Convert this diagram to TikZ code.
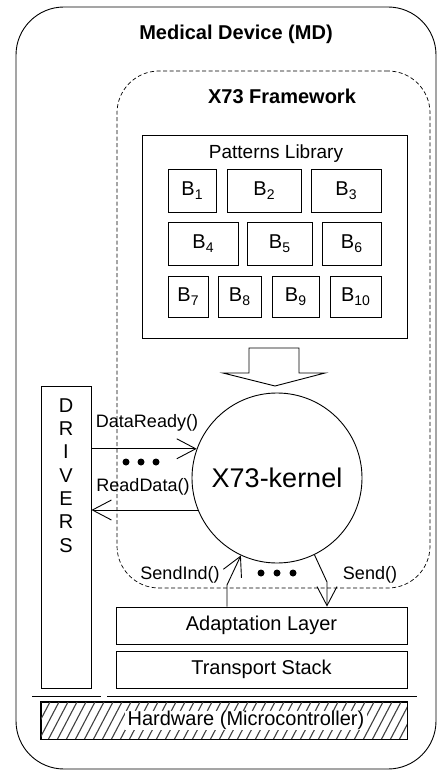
\documentclass[tikz,border=0pt]{standalone}
\usepackage{fontspec}
\setmainfont{Liberation Sans}
\usetikzlibrary{arrows.meta}
\newcommand\bsub[2]{#1\raisebox{-3.5pt}{\fontsize{14}{14}\selectfont #2}}
\begin{document}
\begin{tikzpicture}[x=1pt,y=-1pt,
  line width=0.9pt,
  box/.style={draw, rectangle, inner sep=0pt},
  bbox/.style={box, font=\fontsize{20}{24}\selectfont},
  title/.style={font=\bfseries\fontsize{20}{24}\selectfont, inner sep=0pt},
  lbl/.style={font=\fontsize{18}{21}\selectfont, inner sep=0pt},
  arr/.style={-{Straight Barb[length=19pt,width=20pt]}},
  dot/.style={circle, fill, inner sep=0pt, minimum size=7pt},
]
\useasboundingbox (0,0) rectangle (437,770);

% outer device
\node[draw, rounded corners=48pt, minimum width=420pt, minimum height=762pt, inner sep=0pt] (md) at (226,388) {};
\node[title] (mdt) at (236,34) {Medical Device (MD)};

% framework
\node[draw, dashed, dash pattern=on 4pt off 2.5pt, line width=0.7pt, rounded corners=42pt,
      minimum width=313pt, minimum height=517pt, inner sep=0pt] (fw) at (273.5,329.5) {};
\node[title] (fwt) at (282,96) {X73 Framework};

% patterns library
\node[box, minimum width=265pt, minimum height=203pt] (lib) at (274.5,236.5) {};
\node[font=\fontsize{19}{22}\selectfont, inner sep=0pt] (libt) at (276,154) {Patterns Library};

\node[bbox, minimum width=48pt, minimum height=43pt] (b1) at (192,190.5) {\bsub{B}{1}};
\node[bbox, minimum width=74pt, minimum height=43pt] (b2) at (264,190.5) {\bsub{B}{2}};
\node[bbox, minimum width=70pt, minimum height=43pt] (b3) at (346,190.5) {\bsub{B}{3}};
\node[bbox, minimum width=70pt, minimum height=43pt] (b4) at (203,243.5) {\bsub{B}{4}};
\node[bbox, minimum width=65pt, minimum height=43pt] (b5) at (279.5,243.5) {\bsub{B}{5}};
\node[bbox, minimum width=59pt, minimum height=43pt] (b6) at (351.5,243.5) {\bsub{B}{6}};
\node[bbox, minimum width=40pt, minimum height=41pt] (b7) at (188,296.5) {\bsub{B}{7}};
\node[bbox, minimum width=43pt, minimum height=41pt] (b8) at (239.5,296.5) {\bsub{B}{8}};
\node[bbox, minimum width=47pt, minimum height=41pt] (b9) at (295.5,296.5) {\bsub{B}{9}};
\node[bbox, minimum width=51pt, minimum height=41pt] (b10) at (355.5,296.5) {\bsub{B}{10}};

% block arrow
\draw[line width=0.9pt, line join=miter] (249,348) -- (299,348) -- (299,373) -- (325,373) -- (275,386) -- (223,373) -- (249,373) -- cycle;

% kernel
\node[draw, circle, minimum size=170pt, inner sep=0pt, font=\fontsize{27}{30}\selectfont] (kernel) at (277,478) {X73-kernel};

% drivers
\node[box, minimum width=50pt, minimum height=302pt] (drv) at (66,537) {};
\node[font=\fontsize{20}{23.3}\selectfont, align=center, inner sep=0pt, anchor=north] (drvt) at (66,398)
  {D\\R\\I\\V\\E\\R\\S};

% arrows with drivers
\draw[arr] (drv.east |- kernel.160) -- (kernel.160);
\draw[arr] (kernel.202) -- (drv.east |- kernel.202);
\node[lbl] (dr) at (147,423) {DataReady()};
\node[lbl] (rd) at (143,487) {ReadData()};
\node[dot] (d1) at (126,462) {};
\node[dot] (d2) at (141,462) {};
\node[dot] (d3) at (156,462) {};

% layers
\node[box, minimum width=291pt, minimum height=37pt, font=\fontsize{20}{24}\selectfont] (adapt) at (261.5,625.5) {Adaptation Layer};
\node[box, minimum width=291pt, minimum height=37pt, font=\fontsize{20}{24}\selectfont] (trans) at (261.5,669.5) {Transport Stack};

% bottom arrows
\coordinate (si) at (227,585);
\coordinate (so) at (327,582);
\draw[arr] (adapt.north -| si) -- (si) -- (kernel.245);
\draw[arr] (kernel.296) -- (so) -- (adapt.north -| so);
\node[lbl] (sit) at (180,575) {SendInd()};
\node[lbl] (sot) at (370,575) {Send()};
\node[dot] (d4) at (261,573) {};
\node[dot] (d5) at (277,573) {};
\node[dot] (d6) at (293,573) {};

% separator lines
\coordinate (l1a) at (32,696);
\coordinate (l1b) at (101,696);
\coordinate (l2a) at (107,696);
\coordinate (l2b) at (417,696);
\draw (l1a) -- (l1b);
\draw (l2a) -- (l2b);

% hardware
\node[box, minimum width=366pt, minimum height=37pt] (hw) at (224,720.5) {};
\begin{scope}
  \clip (hw.south west) rectangle (hw.north east);
  \foreach \x in {20,29,...,440} {
    \draw[line width=1.1pt, black!75] (\x,742) -- (\x+22,700);
  }
\end{scope}
\draw (hw.south west) rectangle (hw.north east);
\node[fill=white, inner xsep=3pt, inner ysep=0pt, font=\fontsize{20}{22}\selectfont] (hwt) at (246,720.5) {Hardware (Microcontroller)};
\end{tikzpicture}
\end{document}
